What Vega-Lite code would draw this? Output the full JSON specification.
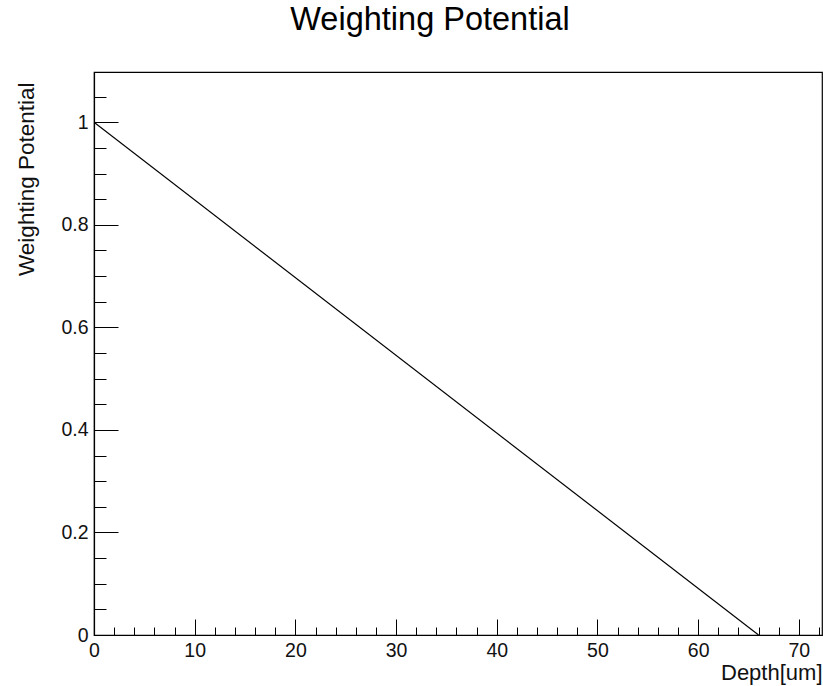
{
  "$schema": "https://vega.github.io/schema/vega-lite/v6.json",
  "width": 728,
  "height": 563,
  "autosize": "none",
  "padding": {"left": 94, "top": 72, "right": 1, "bottom": 51},
  "background": "white",
  "config": {
    "font": "Liberation Sans",
    "view": {"stroke": "black", "strokeWidth": 1.2}
  },
  "title": {
    "text": "Weighting Potential",
    "fontSize": 32.5,
    "fontWeight": "normal",
    "color": "black",
    "anchor": "middle",
    "baseline": "alphabetic",
    "offset": 27,
    "dx": -28,
    "dy": 17
  },
  "data": {"values": [{"depth": 0, "wp": 1}, {"depth": 66, "wp": 0}]},
  "resolve": {"axis": {"x": "independent", "y": "independent"}},
  "layer": [
    {
      "mark": {"type": "line", "color": "black", "strokeWidth": 1.2, "clip": true},
      "encoding": {
        "x": {
          "field": "depth", "type": "quantitative",
          "scale": {"domain": [0, 72.3], "nice": false, "zero": false},
          "axis": {
            "orient": "bottom",
            "values": [0, 10, 20, 30, 40, 50, 60, 70],
            "format": "d",
            "tickSize": -16, "tickColor": "black", "tickWidth": 1,
            "domainColor": "black", "domainWidth": 1.2,
            "labelFontSize": 19.5, "labelColor": "#111", "labelPadding": 22,
            "labelFlush": false, "labelOverlap": false,
            "grid": false,
            "title": "Depth[um]", "titleFontSize": 22, "titleFontWeight": "normal",
            "titleColor": "#111", "titleAnchor": "end", "titleAlign": "right",
            "titleBaseline": "alphabetic", "titleX": 728, "titleY": 44
          }
        },
        "y": {
          "field": "wp", "type": "quantitative",
          "scale": {"domain": [0, 1.098], "nice": false, "zero": false},
          "axis": {
            "orient": "left",
            "values": [0, 0.2, 0.4, 0.6, 0.8, 1],
            "format": ".1~f",
            "tickSize": -24, "tickColor": "black", "tickWidth": 1,
            "domainColor": "black", "domainWidth": 1.2,
            "labelFontSize": 19.5, "labelColor": "#111", "labelPadding": 30,
            "labelFlush": false, "labelOverlap": false,
            "grid": false,
            "title": "Weighting Potential", "titleFontSize": 22.5, "titleFontWeight": "normal",
            "titleColor": "#111", "titleAngle": -90, "titleAlign": "right",
            "titleAnchor": "end", "titleBaseline": "alphabetic",
            "titleX": -61, "titleY": 10
          }
        }
      }
    },
    {
      "mark": {"type": "line", "opacity": 0},
      "encoding": {
        "x": {
          "field": "depth", "type": "quantitative",
          "axis": {
            "orient": "bottom",
            "values": [2, 4, 6, 8, 12, 14, 16, 18, 22, 24, 26, 28, 32, 34, 36, 38, 42, 44, 46, 48, 52, 54, 56, 58, 62, 64, 66, 68, 72],
            "tickSize": -8, "tickColor": "black", "tickWidth": 1,
            "domain": false, "labels": false, "grid": false, "title": null
          }
        },
        "y": {
          "field": "wp", "type": "quantitative",
          "axis": {
            "orient": "left",
            "values": [0.05, 0.1, 0.15, 0.25, 0.3, 0.35, 0.45, 0.5, 0.55, 0.65, 0.7, 0.75, 0.85, 0.9, 0.95, 1.05],
            "tickSize": -12, "tickColor": "black", "tickWidth": 1,
            "domain": false, "labels": false, "grid": false, "title": null
          }
        }
      }
    }
  ]
}
